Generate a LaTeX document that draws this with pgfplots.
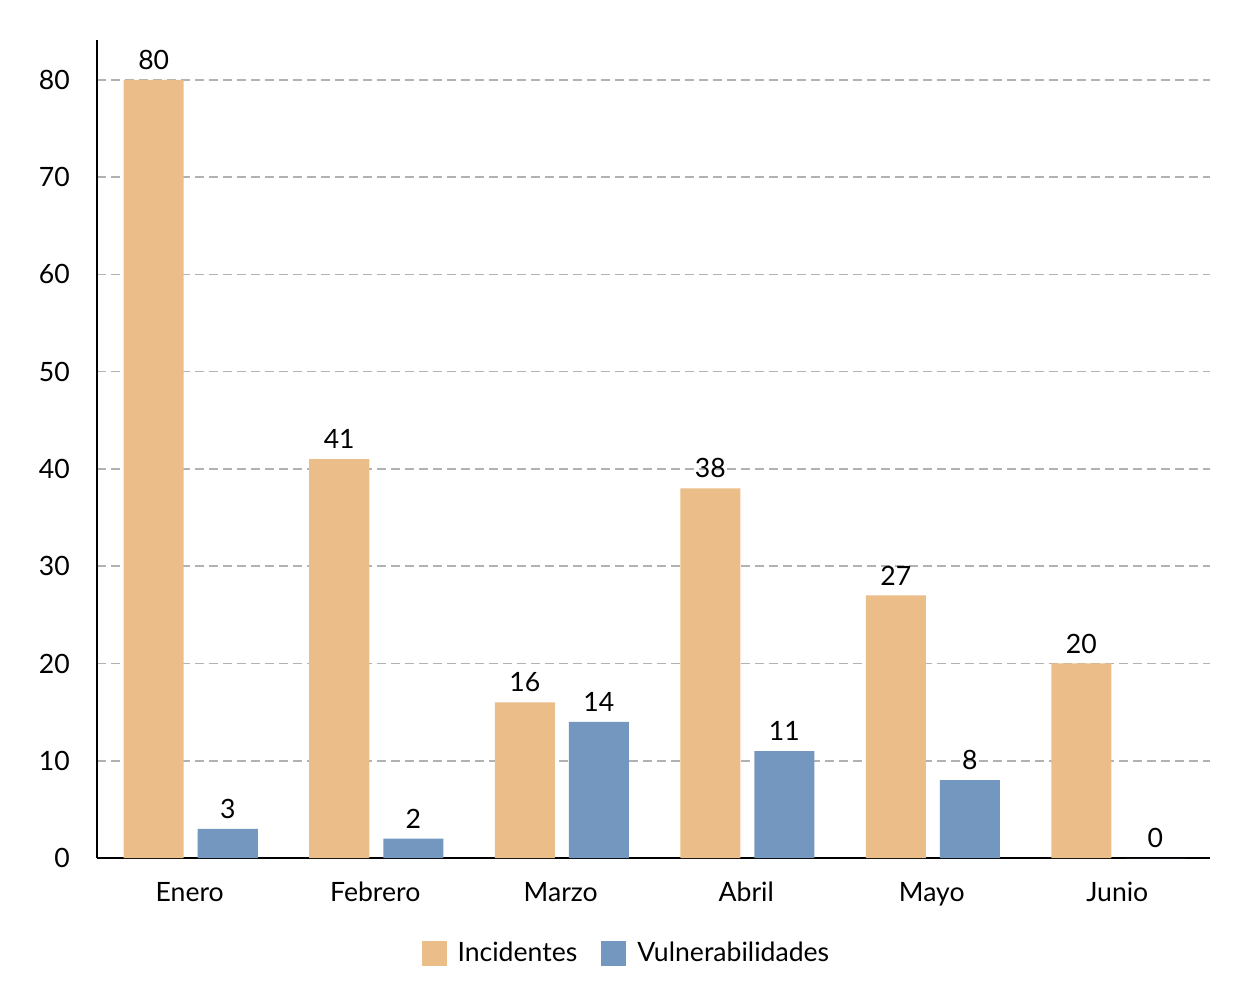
\documentclass[border=0pt]{standalone}
\usepackage{pgfplots}
\pgfplotsset{compat=1.18}
\usepackage{fontspec}
\setmainfont{Lato}
\definecolor{inc}{RGB}{235,189,136}
\definecolor{vul}{RGB}{116,151,192}
\definecolor{gridc}{RGB}{178,178,178}
\newcommand{\fs}{\fontsize{13.3}{16}\selectfont}
\begin{document}
\fs
\begin{tikzpicture}
\begin{axis}[
  name=ax,
  scale only axis,
  width=556.5pt, height=409pt,
  xmin=-0.5, xmax=5.5, ymin=0, ymax=84.1,
  axis lines*=left,
  axis line style={line width=1pt, black, -},
  xtick={0,1,2,3,4,5},
  xticklabels={Enero,Febrero,Marzo,Abril,Mayo,Junio},
  ytick={0,10,20,30,40,50,60,70,80},
  major tick length=0pt,
  ymajorgrids,
  grid style={gridc, line width=0.8pt, dash pattern=on 4.5pt off 2.5pt},
  yticklabel style={xshift=-9pt},
  xticklabel style={yshift=-7pt, text height=0.75em, text depth=0.25em},
  tick label style={font=\fs},
  /pgf/number format/assume math mode=true,
  ybar, bar width=30pt,
  nodes near coords,
  every node near coord/.append style={font=\fs, black, yshift=0.5pt},
  legend columns=2,
  legend style={draw=none, at={(0.4765,-0.117)}, anchor=center, font=\fs,
    /tikz/every even column/.append style={column sep=10pt},
    /tikz/every odd column/.append style={column sep=3.5pt}},
  legend image code/.code={\fill[#1] (0pt,-6pt) rectangle (12.5pt,6.5pt);},
]
\addplot[fill=inc, draw=none, bar shift=-18pt] coordinates {(0,80) (1,41) (2,16) (3,38) (4,27) (5,20)};
\addplot[fill=vul, draw=none, bar shift=19pt] coordinates {(0,3) (1,2) (2,14) (3,11) (4,8) (5,0)};
\legend{Incidentes, Vulnerabilidades}
\end{axis}
\pgfresetboundingbox
\path ([shift={(-48.5pt,-65.5pt)}]ax.south west) rectangle ([shift={(20.5pt,20pt)}]ax.north east);
\end{tikzpicture}
\end{document}
